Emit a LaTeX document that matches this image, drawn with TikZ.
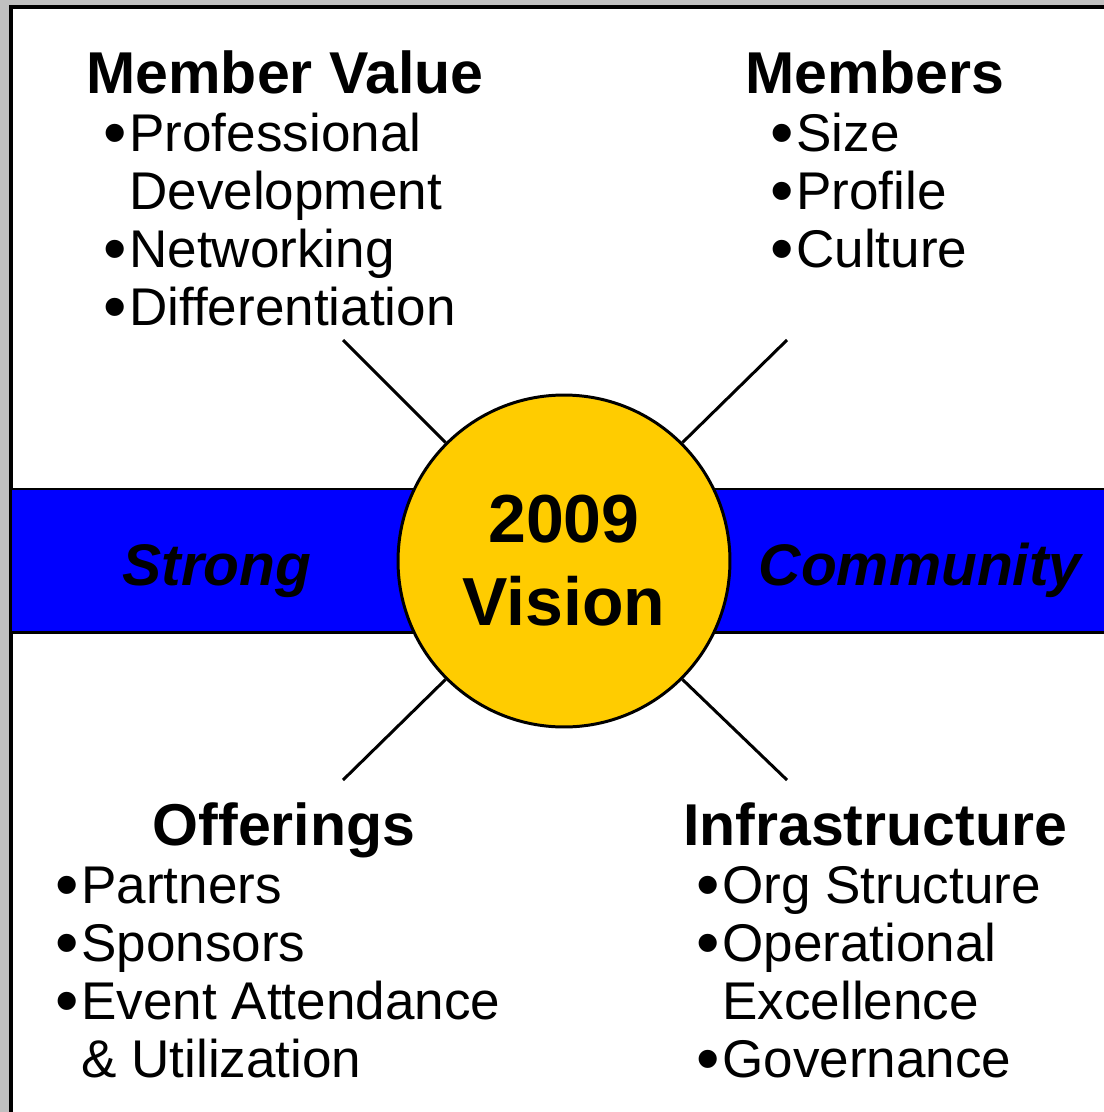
\documentclass[tikz,border=0pt]{standalone}
\usepackage{fontspec}
\setmainfont{Liberation Sans}
\usetikzlibrary{positioning}

\definecolor{framegray}{HTML}{C0C0C0}
\definecolor{bandblue}{HTML}{0000FF}
\definecolor{visionyellow}{HTML}{FFCC00}
\newcommand{\bul}{\llap{\raisebox{-2.4pt}{\fontsize{38}{33}\selectfont\textbullet}\hspace{1.6pt}}}

\begin{document}
\begin{tikzpicture}[
    x=0.02cm, y=-0.02cm,
    title/.style={font=\fontsize{33.6}{33}\selectfont\bfseries, anchor=base, inner sep=0pt},
    itemlist/.style={font=\fontsize{30.2}{33}\selectfont, align=left, anchor=base west, inner sep=0pt},
    bandtext/.style={font=\fontsize{33.4}{33}\selectfont\bfseries\itshape, anchor=base, inner sep=0pt},
    visionnode/.style={circle, draw, line width=1.7pt, fill=visionyellow, minimum size=6.64cm, inner sep=0pt, align=center, font=\fontsize{38.7}{47.2}\selectfont\bfseries},
    spoke/.style={line width=1.7pt}
]

% Frame
\useasboundingbox (0,0) rectangle (1104,1112);
\clip (0,0) rectangle (1104,1112);
\fill[framegray] (0,0) rectangle (1104,1112);
\draw[line width=2pt, fill=white] (10.8,7) rectangle (1130,1140);

% Band
\draw[line width=1.7pt, fill=bandblue] (10.8,489) rectangle (1130,632.5);

% Center circle
\node[visionnode] (vision) at (564,561) {2009\\Vision};

% Spokes
\coordinate (valueend) at (343,340);
\coordinate (membersend) at (787,340);
\coordinate (offerend) at (343,780);
\coordinate (infraend) at (787,780);
\draw[spoke] (vision.135) -- (valueend);
\draw[spoke] (vision.45) -- (membersend);
\draw[spoke] (vision.225) -- (offerend);
\draw[spoke] (vision.315) -- (infraend);

% Band labels
\node[bandtext] (strong) at (217,585) {Strong};
\node[bandtext] (community) at (920,585) {Community};

% Titles
\node[title] (valuetitle) at (285,93) {Member Value};
\node[title] (memberstitle) at (875,93) {Members};
\node[title] (offertitle) at (284,845) {Offerings};
\node[title] (infratitle) at (875,845) {Infrastructure};

% Lists (anchored at the last line)
\node[itemlist] (valuelist) at (129,325) {\bul Professional\\Development\\\bul Networking\\\bul Differentiation};
\node[itemlist] (memberslist) at (796,267) {\bul Size\\\bul Profile\\\bul Culture};
\node[itemlist] (offerlist) at (81,1077) {\bul Partners\\\bul Sponsors\\\bul Event Attendance\\\& Utilization};
\node[itemlist] (infralist) at (722,1077) {\bul Org Structure\\\bul Operational\\Excellence\\\bul Governance};

\end{tikzpicture}
\end{document}
